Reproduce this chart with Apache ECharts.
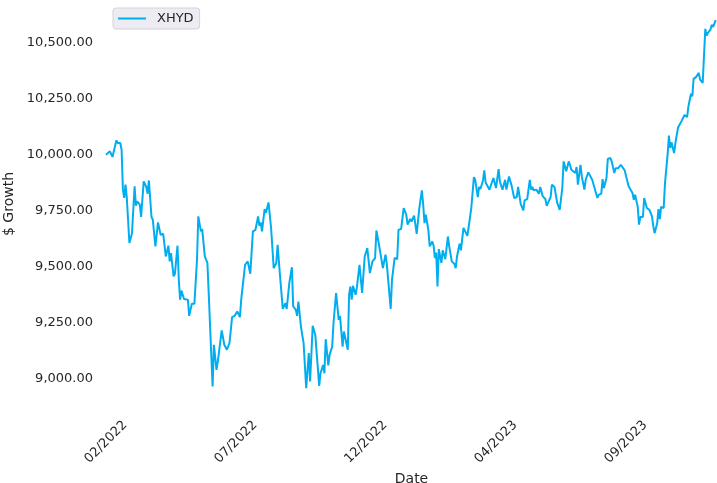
<!DOCTYPE html>
<html>
<head>
<meta charset="utf-8">
<script src="https://cdn.jsdelivr.net/npm/echarts@6/dist/echarts.min.js"></script>
<style>
html,body{margin:0;padding:0;background:#fff;}
#chart{width:717px;height:483px;}
</style>
</head>
<body>
<div id="chart"></div>
<script>
// Trading-day index of each reading (0 = first day shown)
const dayIdx = [
0,3,5,6,8,9,11,12,13,14,15,16,18,20,22,23,24,26,27,29,31,32,33,35,36,38,40,42,44,46,48,49,50,52,53,55,56,57,58,60,
63,64,66,68,70,71,73,74,76,78,79,82,83,85,86,87,89,91,93,95,96,97,99,101,103,104,105,107,109,111,113,115,117,118,119,120,
122,123,125,127,129,131,132,134,136,138,139,141,143,144,146,147,148,150,152,154,156,157,159,161,164,165,167,168,169,171,
172,174,175,177,179,180,182,183,184,186,187,188,189,190,192,193,195,197,199,201,203,205,207,208,210,211,213,215,216,217,
219,220,221,222,224,225,227,229,230,231,232,234,235,237,239,241,243,244,245,246,248,249,251,252,253,254,255,256,258,259,
261,263,264,266,268,269,270,272,273,275,276,278,279,281,283,284,286,287,288,290,291,292,293,295,296,298,300,302,303,305,
307,308,310,312,314,316,317,319,321,322,324,326,327,328,329,331,333,334,336,338,339,342,343,345,347,349,351,352,354,355,
356,358,359,361,362,363,365,366,368,369,371,372,374,375,378,379,381,382,383,385,386,388,389,391,392,394,396,397,399,400,
402,403,405,406,407,409,410,411,413,414,415,416,418,420,421,422,424,425,426,427,429,430,432,433,434,435,437,438,439,440,
441,443,445,447,448,450,451,452,453,454,456,457,459,461,462,463,465,466,467,468,469
];
// XHYD growth of $10,000
const xhydValues = [
10000,10015,9990,9993,10064,10052,10052,10022,9844,9807,9866,9808,9606,9650,9859,9772,9792,9777,9722,9881,9856,9826,9885,9722,9710,9591,9698,9643,9647,9546,9594,9524,9561,9457,9469,9594,9442,9353,9394,9356,
9353,9281,9335,9335,9531,9725,9658,9668,9546,9517,9383,8966,9152,9040,9077,9085,9216,9152,9130,9160,9167,9275,9281,9301,9275,9353,9345,9509,9524,9469,9658,9665,9725,9683,9698,9658,
9757,9740,9787,9673,9494,9517,9598,9450,9312,9338,9312,9427,9498,9323,9308,9281,9345,9231,9159,8958,9115,8988,9237,9196,8969,9025,9062,9025,9177,9060,
9107,9144,9249,9383,9263,9281,9144,9211,9207,9130,9375,9412,9353,9415,9375,9409,9509,9383,9546,9583,9472,9524,9539,9662,9598,9591,9494,9554,9513,9517,
9312,9442,9434,9539,9534,9665,9668,9762,9747,9732,9688,9713,9702,9728,9647,9762,9841,9777,9695,9732,9662,9591,9613,9594,9539,9564,9412,9579,9517,9573,
9534,9635,9591,9524,9513,9494,9546,9603,9573,9673,9665,9638,9635,9762,9900,9888,9811,9856,9847,9885,9930,9876,9873,9844,9862,9896,9851,9936,9880,9844,
9888,9844,9903,9862,9807,9811,9856,9781,9751,9796,9802,9888,9844,9856,9841,9844,9826,9856,9814,9802,9772,9811,9866,9856,9787,9754,9851,9970,9926,9948,
9970,9933,9933,9918,9945,9866,9955,9903,9844,9888,9921,9921,9888,9881,9807,9821,9826,9891,9851,9896,9981,9985,9970,9918,9940,9940,9955,9948,9930,9906,
9859,9866,9829,9799,9821,9769,9688,9722,9722,9807,9799,9762,9754,9725,9680,9650,9695,9757,9713,9767,9762,9873,10000,10085,10030,10055,10007,10052,10045,10120,
10119,10153,10177,10168,10215,10272,10260,10338,10338,10347,10365,10335,10320,10561,10531,10543,10558,10580,10570,10585,10600
];
// x tick positions (trading-day index) and their labels
const xTickIdx = [0, 100, 200, 300, 400];
const xTickLabels = ['02/2022', '07/2022', '12/2022', '04/2023', '09/2023'];
// y tick values
const yTicks = [9000, 9250, 9500, 9750, 10000, 10250, 10500];

const seriesData = dayIdx.map((d, i) => [d, xhydValues[i]]);

const chart = echarts.init(document.getElementById('chart'), null, {renderer: 'canvas'});
const FONT = 'DejaVu Sans';
const TXT = '#262626';
chart.setOption({
  animation: false,
  backgroundColor: '#ffffff',
  textStyle: {fontFamily: FONT},
  grid: {left: 106, right: 0, top: 0, bottom: 75, containLabel: false, outerBoundsMode: 'none'},
  legend: {
    left: 113, top: 8,
    data: ['XHYD'],
    icon: 'rect',
    itemWidth: 28, itemHeight: 2,
    padding: [4, 6, 4, 5],
    backgroundColor: '#ececf2',
    borderColor: '#d2d2d8',
    borderWidth: 1,
    borderRadius: 3,
    textStyle: {fontFamily: FONT, fontSize: 13, color: TXT, padding: [0, 0, 0, 6]}
  },
  xAxis: {
    type: 'value',
    min: 0, max: 470,
    name: 'Date',
    nameLocation: 'middle',
    nameGap: 62,
    nameTextStyle: {fontFamily: FONT, fontSize: 14, color: TXT},
    axisLine: {show: false},
    axisTick: {show: false},
    splitLine: {show: false},
    axisLabel: {
      customValues: xTickIdx,
      rotate: 45,
      align: 'center',
      verticalAlign: 'middle',
      margin: 34,
      fontFamily: FONT, fontSize: 13, color: TXT,
      formatter: function (v) {
        const k = xTickIdx.indexOf(Math.round(v));
        return k >= 0 ? xTickLabels[k] : '';
      }
    }
  },
  yAxis: {
    type: 'value',
    min: 8870, max: 10690,
    name: '$ Growth',
    nameLocation: 'middle',
    nameGap: 85,
    nameTextStyle: {fontFamily: FONT, fontSize: 14, color: TXT},
    axisLine: {show: false},
    axisTick: {show: false},
    splitLine: {show: false},
    axisLabel: {
      customValues: yTicks,
      margin: 13,
      padding: [3, 0, 0, 0],
      fontFamily: FONT, fontSize: 13, color: TXT,
      formatter: function (v) {
        return v.toLocaleString('en-US', {minimumFractionDigits: 2, maximumFractionDigits: 2});
      }
    }
  },
  series: [{
    name: 'XHYD',
    type: 'line',
    data: seriesData,
    showSymbol: false,
    symbol: 'none',
    lineStyle: {color: '#00aeef', width: 2},
    itemStyle: {color: '#00aeef'}
  }]
});
</script>
</body>
</html>
